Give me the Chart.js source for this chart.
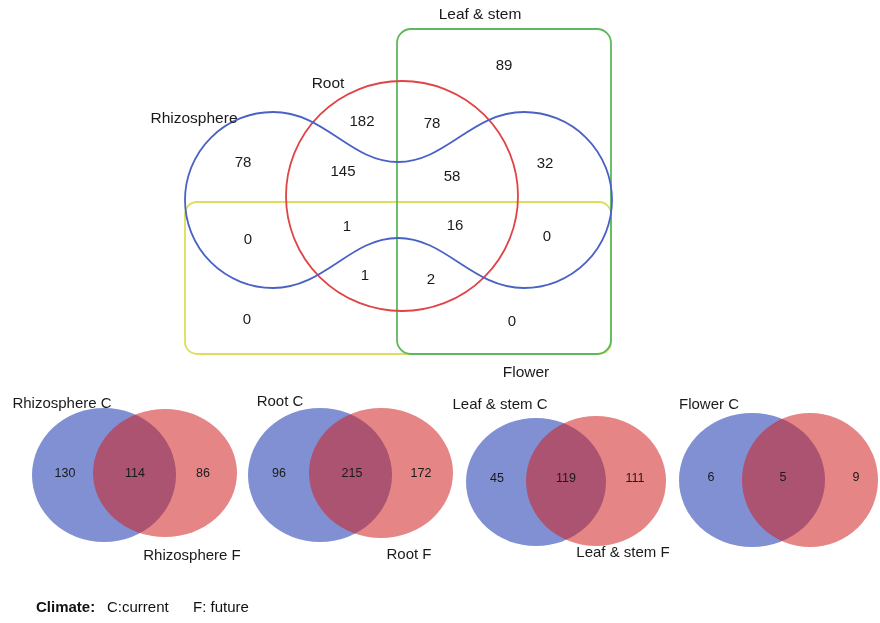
<!DOCTYPE html>
<html>
<head>
<meta charset="utf-8">
<script src="https://cdn.jsdelivr.net/npm/chart.js@4"></script>
<style>
body { margin: 0; background: #fff; }
#venn { display: block; }
</style>
</head>
<body>
<canvas id="venn" width="880" height="623"></canvas>
<script>
// top diagram: 4 sets, counts per region
var setNames = ['Rhizosphere', 'Root', 'Leaf & stem', 'Flower'];
var topRegions = ['Leaf & stem only', 'Root only', 'Root+Leaf', 'Rhizosphere only', 'Rhizo+Root',
  'Rhizo+Root+Leaf', 'Rhizo+Leaf', 'Rhizo+Flower', 'Rhizo+Root+Flower', 'Rhizo+Root+Leaf+Flower',
  'Rhizo+Leaf+Flower', 'Root+Flower', 'Root+Leaf+Flower', 'Flower only', 'Leaf+Flower'];
var topCounts = [89, 182, 78, 78, 145, 58, 32, 0, 1, 16, 0, 1, 2, 0, 0];

// bottom diagrams: current vs future climate
var organs = ['Rhizosphere', 'Root', 'Leaf & stem', 'Flower'];
var currentOnly = [130, 96, 45, 6];
var shared = [114, 215, 119, 5];
var futureOnly = [86, 172, 111, 9];

// layout (pixel-like units on hidden 880 x 623 axes)
var topPos = [[504,66],[362,122],[432,124],[243,163],[343,172],[452,177],[545,164],[248,240],
  [347,227],[455,226],[547,237],[365,276],[431,280],[247,320],[512,322]];
var topLabelPos = [[194,119],[328,84],[480,15],[526,373]];
var pairs = [
  {c:[104,475,72,67], f:[165,473,72,64], n:[65,135,203], y:474, lc:[62,404], lf:[192,556]},
  {c:[320,475,72,67], f:[381,473,72,65], n:[279,352,421], y:474, lc:[280,402], lf:[409,555]},
  {c:[536,482,70,64], f:[596,481,70,65], n:[497,566,635], y:479, lc:[500,405], lf:[623,553]},
  {c:[752,480,73,67], f:[810,480,68,67], n:[711,783,856], y:478, lc:[709,405], lf:null}
];

var FONT = '"Liberation Sans", Arial, sans-serif';

var vennPlugin = {
  id: 'venn',
  afterDatasetsDraw: function(chart) {
    var ctx = chart.ctx;
    var xs = chart.scales.x, ys = chart.scales.y;
    function px(v) { return xs.getPixelForValue(v); }
    function py(v) { return ys.getPixelForValue(v); }
    function rrect(x1, y1, x2, y2, r) {
      x1 = px(x1); x2 = px(x2); y1 = py(y1); y2 = py(y2);
      ctx.beginPath();
      ctx.moveTo(x1 + r, y1);
      ctx.arcTo(x2, y1, x2, y2, r);
      ctx.arcTo(x2, y2, x1, y2, r);
      ctx.arcTo(x1, y2, x1, y1, r);
      ctx.arcTo(x1, y1, x2, y1, r);
      ctx.closePath();
    }
    function text(s, x, y, size, bold, align) {
      ctx.font = (bold ? 'bold ' : '') + size + 'px ' + FONT;
      ctx.textAlign = align || 'center';
      ctx.textBaseline = 'middle';
      ctx.fillStyle = '#1a1a1a';
      ctx.fillText(s, px(x), py(y));
    }
    ctx.save();
    ctx.lineWidth = 1.8;

    // Flower (yellow)
    ctx.strokeStyle = '#dede5a';
    rrect(185, 202, 611, 354, 12); ctx.stroke();
    // Leaf & stem (green)
    ctx.strokeStyle = '#5cb85c';
    rrect(397, 29, 611, 354, 14); ctx.stroke();
    // Root (red)
    ctx.strokeStyle = '#e04444';
    ctx.beginPath();
    ctx.ellipse(px(402), py(196), px(518) - px(402), py(311) - py(196), 0, 0, Math.PI * 2);
    ctx.stroke();
    // Rhizosphere (blue peanut)
    ctx.strokeStyle = '#4a62c4';
    var rl = px(273) - px(185), ry = py(288) - py(200);
    ctx.beginPath();
    ctx.ellipse(px(273), py(200), rl, ry, 0, -Math.PI / 2, Math.PI / 2, true);
    ctx.bezierCurveTo(px(325), py(288), px(350), py(238), px(398), py(238));
    ctx.bezierCurveTo(px(446), py(238), px(472), py(288), px(524), py(288));
    ctx.ellipse(px(524), py(200), rl, ry, 0, Math.PI / 2, -Math.PI / 2, true);
    ctx.bezierCurveTo(px(472), py(112), px(446), py(162), px(398), py(162));
    ctx.bezierCurveTo(px(350), py(162), px(325), py(112), px(273), py(112));
    ctx.stroke();

    // top labels
    for (var i = 0; i < setNames.length; i++) {
      text(setNames[i], topLabelPos[i][0], topLabelPos[i][1], 15.5);
    }

    // bottom pairs
    pairs.forEach(function(p, k) {
      [[p.c, 'rgba(68,92,190,0.68)'], [p.f, 'rgba(208,33,33,0.55)']].forEach(function(e) {
        var a = e[0];
        ctx.beginPath();
        ctx.ellipse(px(a[0]), py(a[1]), px(a[0] + a[2]) - px(a[0]), py(a[1] + a[3]) - py(a[1]), 0, 0, Math.PI * 2);
        ctx.fillStyle = e[1];
        ctx.fill();
      });
      text(organs[k] + ' C', p.lc[0], p.lc[1], 15);
      if (p.lf) text(organs[k] + ' F', p.lf[0], p.lf[1], 15);
    });

    // counts, placed at the dataset points
    chart.data.datasets.forEach(function(ds, di) {
      var meta = chart.getDatasetMeta(di);
      meta.data.forEach(function(pt, j) {
        ctx.font = ds.fontSize + 'px ' + FONT;
        ctx.textAlign = 'center';
        ctx.textBaseline = 'middle';
        ctx.fillStyle = '#1a1a1a';
        ctx.fillText(String(ds.counts[j]), pt.x, pt.y);
      });
    });

    // footnote
    ctx.font = 'bold 15px ' + FONT;
    ctx.textAlign = 'left';
    ctx.textBaseline = 'middle';
    ctx.fillStyle = '#111';
    ctx.fillText('Climate:', px(36), py(608));
    ctx.font = '15px ' + FONT;
    ctx.fillText('C:current', px(107), py(608));
    ctx.fillText('F: future', px(193), py(608));
    ctx.restore();
  }
};

var topPoints = topCounts.map(function(v, i) { return {x: topPos[i][0], y: topPos[i][1]}; });
var bottomPoints = [], bottomCounts = [];
pairs.forEach(function(p, k) {
  [currentOnly[k], shared[k], futureOnly[k]].forEach(function(v, j) {
    bottomPoints.push({x: p.n[j], y: p.y});
    bottomCounts.push(v);
  });
});

new Chart(document.getElementById('venn'), {
  type: 'scatter',
  data: {
    datasets: [
      {label: 'Organ overlap', data: topPoints, counts: topCounts, fontSize: 15, pointRadius: 0},
      {label: 'Climate overlap', data: bottomPoints, counts: bottomCounts, fontSize: 12.5, pointRadius: 0}
    ]
  },
  options: {
    responsive: false,
    animation: false,
    devicePixelRatio: 1,
    layout: {padding: 0},
    plugins: {legend: {display: false}, tooltip: {enabled: false}},
    scales: {
      x: {type: 'linear', min: 0, max: 880, display: false},
      y: {type: 'linear', min: 0, max: 623, reverse: true, display: false}
    }
  },
  plugins: [vennPlugin]
});
</script>
</body>
</html>
